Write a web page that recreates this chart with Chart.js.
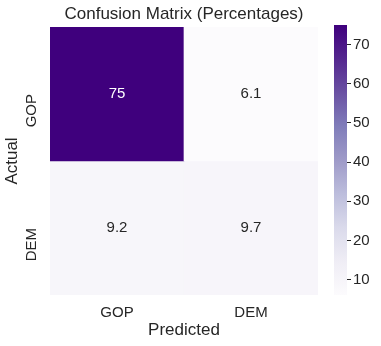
<!DOCTYPE html>
<html>
<head>
<meta charset="utf-8">
<script src="https://cdn.jsdelivr.net/npm/chart.js@4"></script>
<style>
  html, body { margin: 0; padding: 0; background: #fff; }
  #wrap { position: relative; width: 381px; height: 346px; }
  #heatmap { position: absolute; left: 0; top: 0; }
  #colorbar { position: absolute; left: 330px; top: 0; }
</style>
</head>
<body>
<div id="wrap">
  <canvas id="heatmap" width="330" height="346"></canvas>
  <canvas id="colorbar" width="51" height="346"></canvas>
</div>
<script>
const predictedLabels = ["GOP", "DEM"];
const actualLabels = ["GOP", "DEM"];
const gopRow = [75, 6.1];
const demRow = [9.2, 9.7];
const colorbarTicks = [10, 20, 30, 40, 50, 60, 70];
const vmin = 6.1;
const vmax = 75;

// matplotlib "Purples"
const purples = ["#fcfbfd", "#efedf5", "#dadaeb", "#bcbddc", "#9e9ac8",
                 "#807dba", "#6a51a3", "#54278f", "#3f007d"];

const textColor = "#262626";
Chart.defaults.font.family = '"Liberation Sans", Arial, sans-serif';
Chart.defaults.color = textColor;

function hexToRgb(h) {
  return [1, 3, 5].map(i => parseInt(h.substr(i, 2), 16));
}

function purpleAt(v) {
  let t = (v - vmin) / (vmax - vmin);
  t = Math.max(0, Math.min(1, t)) * (purples.length - 1);
  const i = Math.min(Math.floor(t), purples.length - 2);
  const f = t - i;
  const a = hexToRgb(purples[i]), b = hexToRgb(purples[i + 1]);
  const c = a.map((x, k) => Math.round(x + (b[k] - x) * f));
  return "rgb(" + c.join(",") + ")";
}

const rows = [gopRow, demRow];
const n = actualLabels.length;

const annotate = {
  id: "annotate",
  afterDatasetsDraw(chart) {
    const ctx = chart.ctx;
    ctx.save();
    ctx.font = '15px "Liberation Sans", Arial, sans-serif';
    ctx.textAlign = "center";
    ctx.textBaseline = "middle";
    chart.data.datasets.forEach((ds, r) => {
      chart.getDatasetMeta(r).data.forEach((bar, c) => {
        const v = rows[r][c];
        const p = bar.getCenterPoint();
        ctx.fillStyle = v > 40 ? "#ffffff" : textColor;
        ctx.fillText(String(v), p.x, p.y);
      });
    });
    ctx.restore();
  }
};

new Chart(document.getElementById("heatmap"), {
  type: "bar",
  data: {
    labels: predictedLabels,
    datasets: actualLabels.map((name, r) => ({
      label: name,
      data: predictedLabels.map(() => [n - r - 1, n - r]),
      backgroundColor: (c) => purpleAt(rows[r][c.dataIndex]),
      borderWidth: 0,
      barPercentage: 1,
      categoryPercentage: 1,
      grouped: false
    }))
  },
  options: {
    responsive: false,
    animation: false,
    layout: { padding: { left: 0, right: 12, top: 0, bottom: 0 } },
    plugins: {
      legend: { display: false },
      tooltip: { enabled: false },
      title: {
        display: true,
        text: "Confusion Matrix (Percentages)",
        fullSize: false,
        color: textColor,
        font: { size: 17, weight: "normal" },
        padding: { top: 3, bottom: 2 }
      }
    },
    scales: {
      x: {
        grid: { display: false, drawTicks: false },
        border: { display: false },
        ticks: { font: { size: 15 }, padding: 9, color: textColor },
        title: {
          display: true,
          text: "Predicted",
          font: { size: 17 },
          color: textColor,
          padding: { top: 0, bottom: 5 }
        },
        afterFit: (axis) => { axis.height = 51; }
      },
      y: {
        min: 0,
        max: n,
        grid: { display: false, drawTicks: false },
        border: { display: false },
        afterBuildTicks: (axis) => {
          axis.ticks = actualLabels.map((_, r) => ({ value: n - r - 0.5 }));
        },
        ticks: {
          minRotation: 90,
          maxRotation: 90,
          crossAlign: "near",
          padding: 18,
          font: { size: 15 },
          color: textColor,
          callback: (value) => actualLabels[n - 1 - Math.floor(value)]
        },
        title: {
          display: true,
          text: "Actual",
          font: { size: 17 },
          color: textColor,
          padding: { top: 2, bottom: 0 }
        },
        afterFit: (axis) => { axis.width = 50; }
      }
    }
  },
  plugins: [annotate]
});

new Chart(document.getElementById("colorbar"), {
  type: "bar",
  data: {
    labels: ["scale"],
    datasets: [{
      data: [[vmin, vmax]],
      borderWidth: 0,
      barPercentage: 1,
      categoryPercentage: 1,
      backgroundColor: (c) => {
        const chart = c.chart;
        const area = chart.chartArea;
        if (!area) return purples[4];
        const y = chart.scales.y;
        const g = chart.ctx.createLinearGradient(0, y.getPixelForValue(vmin), 0, y.getPixelForValue(vmax));
        purples.forEach((col, i) => g.addColorStop(i / (purples.length - 1), col));
        return g;
      }
    }]
  },
  options: {
    responsive: false,
    animation: false,
    layout: { padding: { left: 4, right: 0, top: 25, bottom: 51 } },
    plugins: { legend: { display: false }, tooltip: { enabled: false } },
    scales: {
      x: { display: false },
      y: {
        position: "right",
        min: vmin,
        max: vmax,
        afterBuildTicks: (axis) => {
          axis.ticks = colorbarTicks.map(v => ({ value: v }));
        },
        grid: {
          drawOnChartArea: false,
          drawTicks: true,
          tickLength: 4,
          color: textColor,
          lineWidth: 1
        },
        border: { display: false },
        ticks: { font: { size: 15 }, padding: 2, color: textColor },
        afterFit: (axis) => { axis.width = 34; }
      }
    }
  }
});
</script>
</body>
</html>
